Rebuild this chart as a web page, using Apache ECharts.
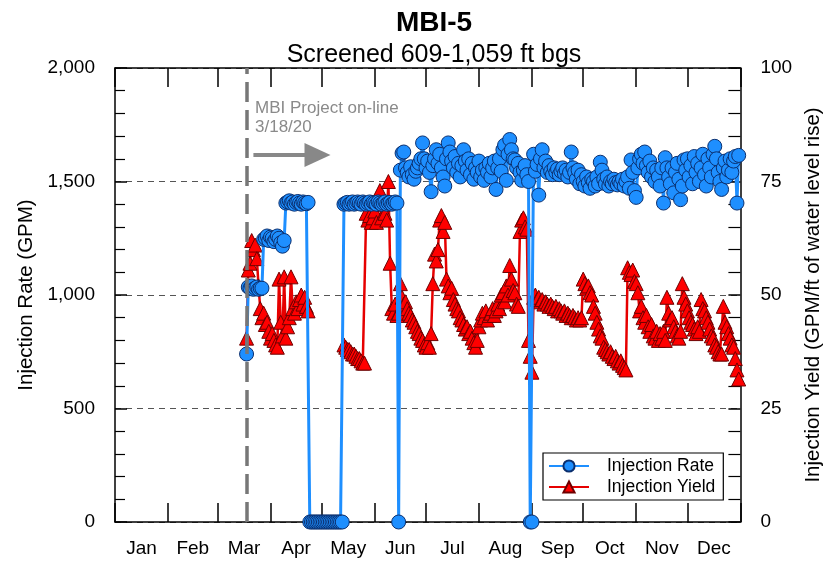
<!DOCTYPE html>
<html>
<head>
<meta charset="utf-8">
<script src="https://cdn.jsdelivr.net/npm/echarts@6/dist/echarts.min.js"></script>
<style>
  html, body { margin: 0; padding: 0; background: #fff; }
  #chart { width: 832px; height: 564px; }
</style>
</head>
<body>
<div id="chart"></div>
<script>
// day of year (Jan 1 = 0), 2020
var months = ['Jan', 'Feb', 'Mar', 'Apr', 'May', 'Jun', 'Jul', 'Aug', 'Sep', 'Oct', 'Nov', 'Dec'];
var monthStarts = [0, 31, 60, 91, 121, 152, 182, 213, 244, 274, 305, 335, 366];
var onlineDay = 77; // 3/18/20

// Injection Rate (GPM), daily from day 77
var rateStart = 77;
var rateValues = [
  740, 1035, 1030, 1040, 1025, 1030, 1035, 1025, 1030, 1030,
  1245, 1250, 1260, 1240, 1255, 1250, 1235, 1245, 1260, 1250,
  1230, 1215, 1240, 1405, 1410, 1415, 1405, 1410, 1400, 1408,
  1412, 1405, 1400, 1410, 1405, 1402, 1408, 0, 0, 0,
  0, 0, 0, 0, 0, 0, 0, 0, 0, 0,
  0, 0, 0, 0, 0, 0, 0, 1400, 1405, 1408,
  1400, 1405, 1410, 1400, 1405, 1410, 1405, 1400, 1410, 1405,
  1400, 1405, 1410, 1400, 1408, 1405, 1400, 1410, 1405, 1400,
  1405, 1410, 1400, 1405, 1408, 1400, 1405, 1410, 1405, 0,
  1550, 1625, 1630, 1560, 1540, 1520, 1565, 1530, 1510, 1545,
  1560, 1580, 1600, 1670, 1600, 1560, 1590, 1540, 1455, 1570,
  1600, 1640, 1580, 1620, 1560, 1520, 1480, 1600, 1670, 1630,
  1590, 1560, 1610, 1540, 1580, 1520, 1570, 1640, 1590, 1550,
  1600, 1530, 1580, 1510, 1560, 1540, 1590, 1520, 1550, 1505,
  1560, 1540, 1580, 1520, 1560, 1590, 1465, 1560, 1600, 1545,
  1640, 1660, 1505, 1620, 1685, 1640, 1600, 1595, 1560, 1580,
  1540, 1505, 1550, 1570, 1530, 1500, 0, 0, 1620, 1545,
  1575, 1440, 1600, 1640, 1560, 1590, 1540, 1570, 1545, 1530,
  1560, 1540, 1555, 1530, 1545, 1560, 1535, 1550, 1520, 1540,
  1630, 1560, 1540, 1510, 1550, 1490, 1530, 1500, 1480, 1520,
  1495, 1470, 1510, 1500, 1480, 1520, 1490, 1585, 1550, 1510,
  1490, 1520, 1480, 1500, 1490, 1510, 1495, 1485, 1500, 1490,
  1510, 1480, 1500, 1520, 1470, 1595, 1540, 1460, 1430, 1560,
  1600, 1620, 1580, 1630, 1570, 1540, 1590, 1520, 1560, 1500,
  1550, 1520, 1480, 1560, 1405, 1605, 1560, 1520, 1490, 1560,
  1450, 1540, 1580, 1510, 1420, 1480, 1595, 1550, 1600, 1520,
  1570, 1490, 1610, 1540, 1580, 1500, 1560, 1620, 1530, 1480,
  1600, 1560, 1520, 1620, 1655, 1600, 1540, 1500, 1465, 1560,
  1590, 1520, 1550, 1600, 1540, 1590, 1610, 1405, 1615
];

// Injection Yield (GPM/ft of water level rise), daily from day 77
var yieldStart = 77;
var yieldValues = [
  40.5, 55.5, 57, 62, 60, 61, 58, 52, 47, 45,
  46, 43.5, 44, 42, 40.5, 41.5, 40, 39, 38.5, 53.5,
  44, 41, 54, 40.5, 43, 45, 54, 47, 46, 48.5,
  47, 49, 50, 48, 49.5, 47.5, 46.5, null, null, null,
  null, null, null, null, null, null, null, null, null, null,
  null, null, null, null, null, null, null, 39, 38.5, 38,
  38, 37.5, 37, 37, 36.5, 36, 36, 35.5, 35, 35,
  68, 66.5, 67.5, 66, 67, 68.5, 66, 71, 73, 67,
  70, 68, 66.5, 75, 57, 47, 46, 48, 45.5, 46,
  52.5, 49.5, 48, 48.5, 47, 46, 45.5, 44.5, 44, 43,
  42, 41.5, 40.5, 40, 39, 38.5, 39.5, 38.5, 41.5, 52.5,
  59, 57.5, 60, 66.5, 67.5, 64, 66, 53.5, 52, 50.5,
  51.5, 49, 48, 47, 46.5, 45, 44.5, 43.5, 42.5, 43,
  41.5, 42, 40.5, 39.5, 38.5, 40, 43, 44.5, 46, 45,
  46.5, 44.5, 45.5, 46, 47, 45.5, 46.5, 48, 47, 50,
  50.5, 48.5, 52, 50, 56.5, 53.5, 51, 50.5, 48, 47.5,
  64, 66.5, 67, 65, 64.5, 40, 36.5, 33, 49.5, 50,
  49, 49.5, 48.5, 49, 48, 48.5, 48, 47.5, 48, 47.5,
  47, 47.5, 46.5, 47, 46.5, 46, 46.5, 45.5, 46, 45.5,
  45, 45.5, 45, 44.5, 45, 44.5, 45, 53.5, 52.5, 51.5,
  52, 50.5, 50, 47.5, 46, 44, 42.5, 41, 40.5, 38.5,
  38, 37.5, 37, 37.5, 36.5, 36, 36.5, 35.5, 35, 35.5,
  34.5, 34, 33.5, 56, 55, 54.5, 55.5, 53, 52.5, 50.5,
  46.5, 47.5, 45, 44, 45.5, 43, 42, 43.5, 41, 40.5,
  42, 40, 41.5, 40.5, 42, 40, 49.5, 46, 44.5, 45,
  43, 42, 41, 40.5, 42, 52.5, 49.5, 48, 46.5, 45,
  44, 43.5, 42.5, 41.5, 43, 42, 49, 47, 46.5, 45,
  44, 42.5, 41, 40.5, 39, 38.5, 37.5, 37, 37, 47.5,
  44, 43, 41.5, 40.5, 39, 38.5, 36, 33.5, 31.5
];

var font = '"Liberation Sans", Arial, sans-serif';

var monthMids = [];
for (var i = 0; i < 12; i++) monthMids.push((monthStarts[i] + monthStarts[i + 1]) / 2);

var rateData = rateValues.map(function(v, i) { return [rateStart + i, v]; });
var yieldData = yieldValues.map(function(v, i) { return [yieldStart + i, v]; });

function commas(v) {
  return String(v).replace(/\B(?=(\d{3})+(?!\d))/g, ',');
}

var chart = echarts.init(document.getElementById('chart'));

var xBase = {
  type: 'value',
  min: 0,
  max: 366,
  gridIndex: 0,
  axisLine: { onZero: false, lineStyle: { color: '#000', width: 1.5 } },
  axisTick: { customValues: monthStarts, inside: true, length: 19, lineStyle: { color: '#000', width: 1.5 } },
  splitLine: { show: false }
};

var option = {
  animation: false,
  textStyle: { fontFamily: font },
  title: {
    text: 'MBI-5',
    subtext: 'Screened 609-1,059 ft bgs',
    left: 429,
    textAlign: 'center',
    top: 4,
    itemGap: 6,
    textStyle: { fontFamily: font, fontSize: 28, fontWeight: 'bold', color: '#000' },
    subtextStyle: { fontFamily: font, fontSize: 25, color: '#000' }
  },
  grid: { left: 115, right: 80, top: 68, bottom: 42 },
  legend: {
    data: ['Injection Rate', 'Injection Yield'],
    orient: 'vertical',
    left: 543,
    top: 453,
    backgroundColor: '#fff',
    borderColor: '#000',
    borderWidth: 1.2,
    padding: [4, 8, 4, 5],
    itemGap: 3,
    itemWidth: 40,
    itemHeight: 14,
    textStyle: { fontFamily: font, fontSize: 17.5, color: '#000', padding: [0, 0, 0, 13] }
  },
  xAxis: [
    Object.assign({}, xBase, {
      position: 'bottom',
      axisLabel: {
        customValues: monthMids,
        margin: 17,
        fontSize: 19,
        color: '#000',
        fontFamily: font,
        formatter: function(v) {
          var k = monthMids.indexOf(v);
          return k >= 0 ? months[k] : '';
        }
      }
    }),
    Object.assign({}, xBase, {
      position: 'top',
      axisLabel: { show: false }
    })
  ],
  yAxis: [
    {
      type: 'value',
      position: 'left',
      min: 0,
      max: 2000,
      interval: 500,
      name: 'Injection Rate (GPM)',
      nameLocation: 'middle',
      nameGap: 76,
      nameTextStyle: { fontFamily: font, fontSize: 20.5, color: '#000' },
      axisLine: { show: true, onZero: false, lineStyle: { color: '#000', width: 1.5 } },
      axisTick: { show: true, inside: true, length: 12, lineStyle: { color: '#000', width: 1.5 } },
      minorTick: { show: true, splitNumber: 5, length: 10, lineStyle: { color: '#000', width: 1.2 } },
      axisLabel: { margin: 20, fontSize: 19, color: '#000', fontFamily: font, formatter: commas },
      splitLine: { show: true, lineStyle: { color: '#555', width: 1, type: [6, 5] } }
    },
    {
      type: 'value',
      position: 'right',
      min: 0,
      max: 100,
      interval: 25,
      name: 'Injection Yield (GPM/ft of water level rise)',
      nameLocation: 'middle',
      nameGap: 52,
      nameTextStyle: { fontFamily: font, fontSize: 20.5, color: '#000' },
      axisLine: { show: true, onZero: false, lineStyle: { color: '#000', width: 1.5 } },
      axisTick: { show: true, inside: true, length: 12, lineStyle: { color: '#000', width: 1.5 } },
      minorTick: { show: true, splitNumber: 5, length: 12, lineStyle: { color: '#000', width: 1.2 } },
      axisLabel: { margin: 20, fontSize: 19, color: '#000', fontFamily: font },
      splitLine: { show: false }
    }
  ],
  graphic: [
    {
      type: 'text',
      left: 255,
      top: 99,
      z: 10,
      style: {
        text: 'MBI Project on-line\n3/18/20',
        fill: '#8a8a8a',
        font: '17px ' + font,
        lineHeight: 19
      }
    }
  ],
  series: [
    {
      // on-line marker and arrow, drawn under the data
      type: 'line',
      xAxisIndex: 0,
      yAxisIndex: 0,
      data: [],
      z: 1,
      silent: true,
      markLine: {
        silent: true,
        animation: false,
        symbol: ['none', 'none'],
        label: { show: false },
        data: [
          {
            xAxis: onlineDay,
            lineStyle: { color: '#777', width: 3.5, type: [20, 8] }
          },
          [
            { coord: [81, 1617], symbol: 'none' },
            { coord: [118.5, 1617], symbol: 'triangle', symbolSize: [24, 26] }
          ]
        ],
        lineStyle: { color: '#888', width: 4, type: 'solid' }
      }
    },
    {
      name: 'Injection Yield',
      type: 'line',
      xAxisIndex: 0,
      yAxisIndex: 1,
      data: yieldData,
      z: 2,
      connectNulls: false,
      showAllSymbol: true,
      symbol: 'triangle',
      symbolSize: 14,
      itemStyle: { color: '#ff0000', borderColor: '#6e0000', borderWidth: 1 },
      lineStyle: { color: '#e60000', width: 2.5 }
    },
    {
      name: 'Injection Rate',
      type: 'line',
      xAxisIndex: 0,
      yAxisIndex: 0,
      data: rateData,
      z: 3,
      showAllSymbol: true,
      symbol: 'circle',
      symbolSize: 14,
      itemStyle: { color: '#1e8fff', borderColor: '#0b2f6e', borderWidth: 1 },
      lineStyle: { color: '#1e8fff', width: 3 }
    }
  ]
};

chart.setOption(option);
</script>
</body>
</html>
